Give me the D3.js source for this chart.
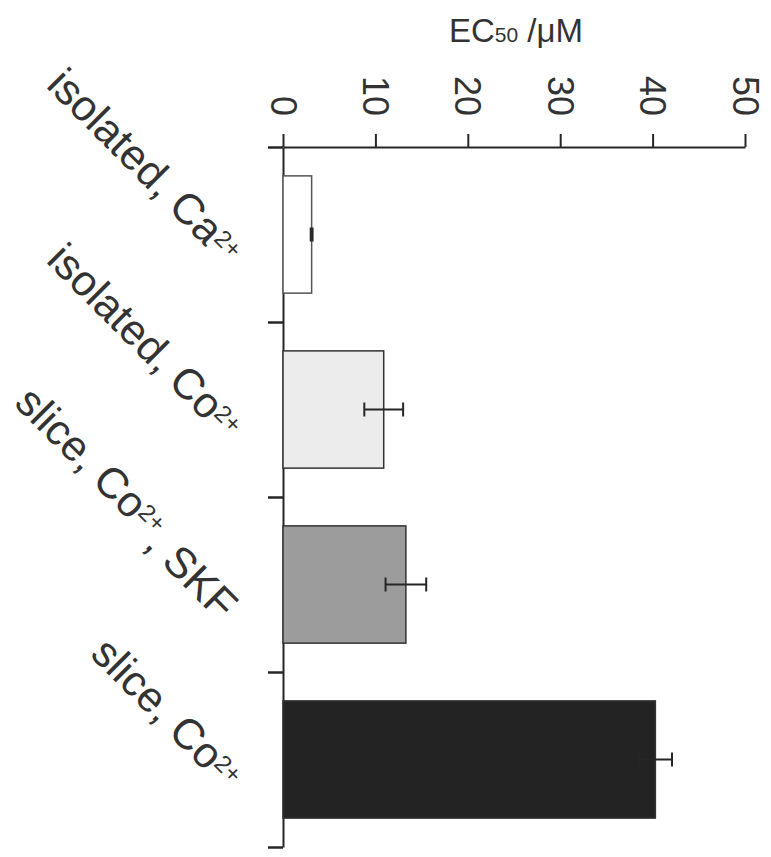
<!DOCTYPE html>
<html>
<head>
<meta charset="utf-8">
<script src="https://cdn.jsdelivr.net/npm/d3@7"></script>
<style>
  body { margin: 0; background: #fff; }
  svg { display: block; }
  text { font-family: "Liberation Sans", Arial, Helvetica, sans-serif; fill: #333; }
</style>
</head>
<body>
<svg width="771" height="857"></svg>
<script>
// **** data ****
var categories = ['isolated, Ca2+', 'isolated, Co2+', 'slice, Co2+, SKF', 'slice, Co2+'];
var ec50 = [3.1, 10.9, 13.3, 40.3];
var sem = [0.1, 2.1, 2.2, 1.8];
var barFills = ['#ffffff', '#ececec', '#9c9c9c', '#232323'];
var xTicks = [0, 10, 20, 30, 40, 50];

// **** scales ****
var xScale = d3.scaleLinear().domain([0, 50]).range([283, 745]);
var yBand = d3.scaleBand().domain(categories).range([147, 847]);
var yEdge = d3.scaleLinear().domain([0, categories.length]).range([147, 847]);

var svg = d3.select('svg');
var ink = '#262626';

// value axis along the top
var xAxis = svg.append('g').attr('class', 'x axis')
    .attr('transform', 'translate(0,147)')
    .call(d3.axisTop(xScale).tickValues(xTicks).tickSize(13).tickSizeOuter(0));
xAxis.select('.domain').attr('stroke', ink).attr('stroke-width', 2);
xAxis.selectAll('.tick line').attr('stroke', ink).attr('stroke-width', 2);
xAxis.selectAll('.tick text')
    .attr('transform', 'rotate(90)')
    .attr('text-anchor', 'end')
    .attr('x', -31).attr('y', 0).attr('dy', '0.36em')
    .style('font-size', '36px')
    .attr('fill', '#333');

// category axis (ticks on the band edges)
var yAxis = svg.append('g').attr('class', 'y axis')
    .attr('transform', 'translate(283,0)')
    .call(d3.axisLeft(yEdge).tickValues(d3.range(categories.length + 1))
        .tickSize(15).tickSizeOuter(0).tickFormat(''));
yAxis.select('.domain').attr('stroke', ink).attr('stroke-width', 2);
yAxis.selectAll('.tick line').attr('stroke', ink).attr('stroke-width', 2.5);

// axis title
var title = svg.append('text')
    .attr('x', 516).attr('y', 42)
    .attr('text-anchor', 'middle')
    .style('font-size', '33px');
title.append('tspan').text('EC');
title.append('tspan').style('font-size', '21px').text('50');
title.append('tspan').text(' /\u03bcM');

// **** bars ****
var pad = 0.165;
var rows = categories.map(function(c, i) {
    return {name: c, value: ec50[i], err: sem[i], fill: barFills[i]};
});

var bars = svg.selectAll('.bar')
    .data(rows)
    .enter()
    .append('g')
    .attr('class', 'bar');

bars.append('rect')
    .attr('x', xScale(0))
    .attr('y', function(d) { return yBand(d.name) + yBand.bandwidth() * pad; })
    .attr('width', function(d) { return xScale(d.value) - xScale(0); })
    .attr('height', yBand.bandwidth() * (1 - 2 * pad))
    .attr('fill', function(d) { return d.fill; })
    .attr('stroke', function(d, i) { return i === 0 ? '#555' : '#333'; })
    .attr('stroke-width', 1.5);

// error bars
function mid(d) { return yBand(d.name) + yBand.bandwidth() / 2; }
var errInk = '#262626';
bars.append('line')
    .attr('x1', function(d) { return xScale(d.value - d.err); })
    .attr('x2', function(d) { return xScale(d.value + d.err); })
    .attr('y1', mid).attr('y2', mid)
    .attr('stroke', errInk).attr('stroke-width', 2);
[-1, 1].forEach(function(sign) {
    bars.append('line')
        .attr('x1', function(d) { return xScale(d.value + sign * d.err); })
        .attr('x2', function(d) { return xScale(d.value + sign * d.err); })
        .attr('y1', function(d) { return mid(d) - 7; })
        .attr('y2', function(d) { return mid(d) + 7; })
        .attr('stroke', errInk).attr('stroke-width', 2);
});

// **** category labels, slanted ****
var labels = svg.selectAll('.cat')
    .data(categories)
    .enter()
    .append('text')
    .attr('class', 'cat')
    .attr('text-anchor', 'end')
    .attr('transform', function(c) {
        return 'translate(225,' + (yBand(c) + yBand.bandwidth() / 2 + 32) + ') rotate(45)';
    })
    .style('font-size', '43px');

labels.each(function(c) {
    var t = d3.select(this);
    c.split(/(2\+)/).forEach(function(part) {
        if (part === '') return;
        if (part === '2+') {
            t.append('tspan').attr('dy', '-0.42em').style('font-size', '24px').text(part);
            t.append('tspan').attr('dy', '0.42em').text('\u200b');
        } else {
            t.append('tspan').text(part);
        }
    });
});
</script>
</body>
</html>
